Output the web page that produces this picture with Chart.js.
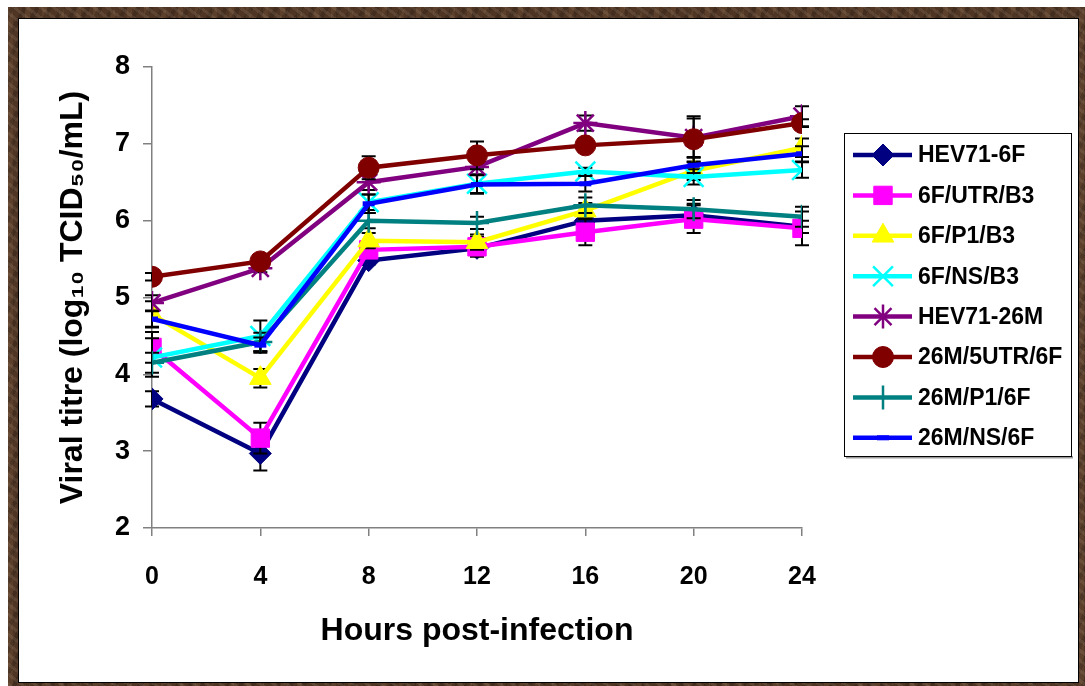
<!DOCTYPE html>
<html><head><meta charset="utf-8">
<script src="https://cdn.jsdelivr.net/npm/chart.js@4.4.1/dist/chart.umd.min.js"></script>
<style>
html,body{margin:0;padding:0;background:#fff;width:1085px;height:686px;overflow:hidden;}
#frame{position:absolute;left:8px;top:7px;width:1077px;height:679px;background-color:#4f3524;
background-image:repeating-linear-gradient(37deg,rgba(255,235,205,0.09) 0 3px,transparent 3px 8px),repeating-linear-gradient(-61deg,rgba(0,0,0,0.16) 0 4px,transparent 4px 11px),repeating-linear-gradient(90deg,rgba(170,130,90,0.14) 0 5px,transparent 5px 17px);}
#inner{position:absolute;left:18px;top:18px;width:1059px;height:663px;background:#fff;border:1px solid #000;}
#c{position:absolute;left:0;top:0;}
</style></head>
<body>
<div id="frame"></div><div id="inner"></div>
<canvas id="c" width="1085" height="686"></canvas>
<script>
const hours = [0, 4, 8, 12, 16, 20, 24];
const yTicks = [2, 3, 4, 5, 6, 7, 8];
const seriesNames = ['HEV71-6F','6F/UTR/B3','6F/P1/B3','6F/NS/B3','HEV71-26M','26M/5UTR/6F','26M/P1/6F','26M/NS/6F'];
const hev71_6f   = [3.68, 2.97, 5.48, 5.64, 6.00, 6.07, 5.92];
const utr_b3     = [4.35, 3.17, 5.62, 5.66, 5.85, 6.02, 5.90];
const p1_b3      = [4.78, 3.95, 5.74, 5.72, 6.13, 6.65, 6.95];
const ns_b3      = [4.22, 4.50, 6.24, 6.48, 6.64, 6.57, 6.66];
const hev71_26m  = [4.93, 5.38, 6.50, 6.70, 7.27, 7.08, 7.36];
const m5utr_6f   = [5.27, 5.47, 6.69, 6.85, 6.98, 7.06, 7.27];
const p1_6f      = [4.15, 4.42, 6.00, 5.97, 6.20, 6.15, 6.05];
const ns_6f      = [4.72, 4.38, 6.22, 6.47, 6.48, 6.72, 6.87];
const err_hev71_6f  = [0.10, 0.22, 0.05, 0.08, 0.10, 0.15, 0.08];
const err_utr_b3    = [0.20, 0.20, 0.10, 0.13, 0.17, 0.18, 0.22];
const err_p1_b3     = [0.17, 0.12, 0.10, 0.10, 0.10, 0.12, 0.12];
const err_ns_b3     = [0.25, 0.20, 0.10, 0.12, 0.05, 0.10, 0.10];
const err_hev71_26m = [0.10, 0.05, 0.10, 0.10, 0.10, 0.25, 0.13];
const err_m5utr_6f  = [0.05, 0.05, 0.15, 0.18, 0.05, 0.30, 0.05];
const err_p1_6f     = [0.13, 0.12, 0.10, 0.08, 0.10, 0.12, 0.13];
const err_ns_6f     = [0.10, 0.10, 0.12, 0.12, 0.10, 0.10, 0.10];

const values = [hev71_6f, utr_b3, p1_b3, ns_b3, hev71_26m, m5utr_6f, p1_6f, ns_6f];
const errors = [err_hev71_6f, err_utr_b3, err_p1_b3, err_ns_b3, err_hev71_26m, err_m5utr_6f, err_p1_6f, err_ns_6f];
const colors = ['#000080','#FF00FF','#FFFF00','#00FFFF','#800080','#800000','#008080','#0000FF'];
const styles = ['rectRot','rect','triangle','crossRot','star','circle','cross','line'];
const radii  = [11, 13, 12.5, 14, 12, 10.5, 12, 6];
const pbw    = [1, 1, 1, 2.5, 2.5, 1, 2.5, 5];

const FONT = "'Liberation Sans', Arial, Helvetica, sans-serif";

const datasets = seriesNames.map((name, i) => ({
  label: name,
  data: hours.map((h, j) => ({x: h, y: values[i][j]})),
  errs: errors[i],
  borderColor: colors[i],
  backgroundColor: colors[i],
  borderWidth: 4.5,
  pointStyle: styles[i],
  pointRadius: radii[i],
  pointBorderWidth: pbw[i],
  pointBackgroundColor: colors[i],
  pointBorderColor: colors[i],
  tension: 0,
  order: seriesNames.length - i
}));

const errorBars = {
  id: 'errorBars',
  beforeDatasetDraw(chart, args) {
    const ds = chart.data.datasets[args.index];
    const meta = chart.getDatasetMeta(args.index);
    const ys = chart.scales.y, ctx = chart.ctx;
    ctx.save();
    ctx.strokeStyle = '#000'; ctx.lineWidth = 2;
    meta.data.forEach((pt, j) => {
      const v = ds.data[j].y, e = ds.errs[j];
      const y1 = ys.getPixelForValue(v + e), y2 = ys.getPixelForValue(v - e);
      const x = pt.x;
      ctx.beginPath();
      ctx.moveTo(x, y1); ctx.lineTo(x, y2);
      ctx.moveTo(x - 7, y1); ctx.lineTo(x + 7, y1);
      ctx.moveTo(x - 7, y2); ctx.lineTo(x + 7, y2);
      ctx.stroke();
    });
    ctx.restore();
  }
};

function marker(ctx, style, r, bw, color, x, y) {
  if (Chart.helpers && Chart.helpers.drawPoint) {
    ctx.fillStyle = color; ctx.strokeStyle = color; ctx.lineWidth = bw;
    Chart.helpers.drawPoint(ctx, {pointStyle: style, radius: r, rotation: 0, borderWidth: bw}, x, y);
  }
}

const boxLegend = {
  id: 'boxLegend',
  afterDraw(chart) {
    const ctx = chart.ctx;
    const L = 844, T = 133, R = 1071, B = 456;
    ctx.save();
    ctx.fillStyle = '#9a9a9a';
    ctx.fillRect(L + 2, B, R - L, 2.5);
    ctx.fillStyle = '#fff';
    ctx.fillRect(L, T, R - L, B - T);
    ctx.strokeStyle = '#000'; ctx.lineWidth = 1;
    ctx.strokeRect(L + 0.5, T + 0.5, R - L, B - T);
    chart.data.datasets.forEach((ds, i) => {
      const y = 155 + i * 40.4;
      ctx.strokeStyle = ds.borderColor; ctx.lineWidth = 4.5;
      ctx.beginPath(); ctx.moveTo(853, y); ctx.lineTo(912, y); ctx.stroke();
      marker(ctx, ds.pointStyle, ds.pointRadius, ds.pointBorderWidth, ds.borderColor, 883, y);
      ctx.fillStyle = '#000';
      ctx.font = 'bold 23px ' + FONT;
      ctx.textBaseline = 'middle'; ctx.textAlign = 'left';
      ctx.fillText(ds.label, 918, y + 1);
    });
    ctx.restore();
  }
};

new Chart(document.getElementById('c'), {
  type: 'line',
  data: { datasets },
  options: {
    responsive: false,
    devicePixelRatio: 1,
    animation: false,
    layout: { padding: { left: 0, top: 67, right: 283, bottom: 0 } },
    plugins: { legend: { display: false }, tooltip: { enabled: false } },
    scales: {
      x: {
        type: 'linear', min: 0, max: 24,
        afterFit(s) { s.height = 158; },
        afterBuildTicks(s) { s.ticks = hours.map(v => ({value: v})); },
        grid: { drawOnChartArea: false, drawTicks: true, tickLength: 8, color: '#808080', lineWidth: 1.5 },
        border: { display: true, color: '#808080', width: 1.5 },
        ticks: { color: '#000', font: { family: FONT, size: 25, weight: 'bold' }, padding: 26, maxRotation: 0 },
        title: { display: true, text: 'Hours post-infection', color: '#000',
                 font: { family: FONT, size: 32, weight: 'bold', lineHeight: 1.2 }, padding: { top: 0, bottom: 36 } }
      },
      y: {
        min: 2, max: 8,
        afterFit(s) { s.width = 152; },
        afterBuildTicks(s) { s.ticks = yTicks.map(v => ({value: v})); },
        grid: { drawOnChartArea: false, drawTicks: true, tickLength: 9, color: '#808080', lineWidth: 1.5 },
        border: { display: true, color: '#808080', width: 1.5 },
        ticks: { color: '#000', font: { family: FONT, size: 27, weight: 'bold' }, padding: 13 },
        title: { display: true, text: 'Viral titre (log\u2081\u2080 TCID\u2085\u2080/mL)', color: '#000',
                 font: { family: FONT, size: 32, weight: 'bold', lineHeight: 1.2 }, padding: { top: 54, bottom: 0 } }
      }
    }
  },
  plugins: [errorBars, boxLegend]
});
</script>
</body></html>
